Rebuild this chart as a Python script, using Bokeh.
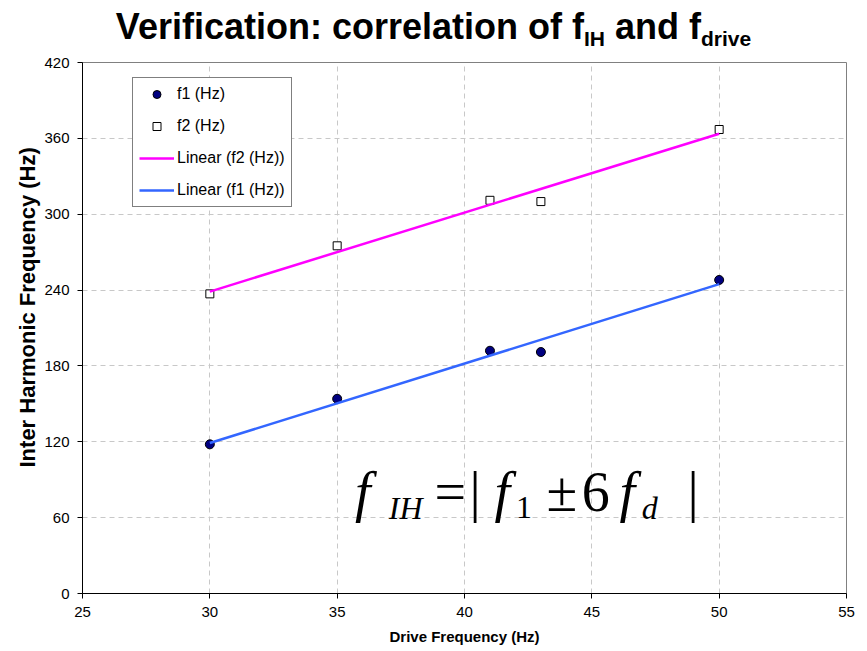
from bokeh.plotting import figure
from bokeh.models import Range1d, FixedTicker, Legend, LegendItem, Label, Div, Title
from bokeh.layouts import column
from bokeh.embed import file_html
from bokeh.resources import INLINE
import numpy as np

# ---- data ----
drive_hz = [30, 35, 41, 43, 50]
f1_hz = [118, 154, 192, 191, 248]
f2_hz = [237, 275, 311, 310, 367]
x_ticks = [25, 30, 35, 40, 45, 50, 55]
y_ticks = [0, 60, 120, 180, 240, 300, 360, 420]

SANS = "Liberation Sans"
SERIF = "Liberation Serif"

W, H = 867, 651
TITLE_H = 52

title = Div(
    text=(
        '<div style="font-family:\'Liberation Sans\',Arial,sans-serif;font-weight:bold;'
        'font-size:36px;line-height:37px;padding-top:8px;text-align:center;width:867px;color:#000;">'
        'Verification: correlation of f<span style="font-size:21px;position:relative;top:7px">IH</span>'
        ' and f<span style="font-size:21px;position:relative;top:7px">drive</span></div>'
    ),
    width=W, height=TITLE_H, margin=(0, 0, 0, 0),
)

p = figure(
    width=W, height=H - TITLE_H,
    x_range=Range1d(25, 55), y_range=Range1d(0, 420),
    output_backend="svg", toolbar_location=None,
    min_border_left=82, min_border_right=21, min_border_top=10, min_border_bottom=58,
)
p.outline_line_color = "#808080"
p.background_fill_color = "white"
p.border_fill_color = "white"

# grids
for g in (p.xgrid, p.ygrid):
    g.grid_line_color = "#c8c8c8"
    g.grid_line_dash = "5 4"
    g.grid_line_width = 1
p.xaxis.ticker = FixedTicker(ticks=x_ticks)
p.yaxis.ticker = FixedTicker(ticks=y_ticks)

for ax in (p.xaxis, p.yaxis):
    ax.axis_line_color = "black"
    ax.major_tick_line_color = "black"
    ax.minor_tick_line_color = None
    ax.major_tick_in = 0
    ax.major_tick_out = 5
    ax.major_label_text_font = SANS
    ax.major_label_text_font_size = "15px"
    ax.major_label_text_color = "black"
    ax.axis_label_text_font = SANS
    ax.axis_label_text_font_style = "bold"
    ax.axis_label_text_color = "black"

p.xaxis.axis_label = "Drive Frequency (Hz)"
p.xaxis.axis_label_text_font_size = "15px"
p.xaxis.major_label_standoff = 8
p.xaxis.axis_label_standoff = 8

p.yaxis.major_label_standoff = 8

# y-axis title, placed a little above the frame centre as in the reference
p.add_layout(Title(text="Inter Harmonic Frequency (Hz)", align="left", offset=126,
                   text_font=SANS, text_font_size="22px", text_font_style="bold",
                   text_color="black", standoff=4), "left")

# points
r1 = p.scatter(drive_hz, f1_hz, marker="circle", size=9, fill_color="#000080", line_color="black", line_width=1)
r2 = p.scatter(drive_hz, f2_hz, marker="square", size=8, fill_color="white", line_color="black", line_width=1)

# linear trend lines (least squares on the data)
xs = [min(drive_hz), max(drive_hz)]
c2 = np.polyfit(drive_hz, f2_hz, 1)
c1 = np.polyfit(drive_hz, f1_hz, 1)
l2 = p.line(xs, list(np.polyval(c2, xs)), line_color="#FF00FF", line_width=2.5)
l1 = p.line(xs, list(np.polyval(c1, xs)), line_color="#3366FF", line_width=2.5)

legend = Legend(
    items=[
        LegendItem(label="f1 (Hz)", renderers=[r1]),
        LegendItem(label="f2 (Hz)", renderers=[r2]),
        LegendItem(label="Linear (f2 (Hz))", renderers=[l2]),
        LegendItem(label="Linear (f1 (Hz))", renderers=[l1]),
    ],
    location=(50, 386),
    border_line_color="black", border_line_width=1,
    background_fill_color="white", background_fill_alpha=1,
    label_text_font=SANS, label_text_font_size="16px", label_text_color="black",
    glyph_width=35, glyph_height=20, label_height=20, spacing=12,
    padding=6, margin=0, label_standoff=3,
)
p.add_layout(legend)

# formula  f_IH = | f_1 ± 6 f_d |
main_y = 80.0
sub_y = 68.0
pieces = [
    ("f", 35.70, main_y, 56, "italic"),
    ("IH", 37.03, sub_y, 32, "italic"),
    ("=", 38.82, main_y, 56, "normal"),
    ("|", 40.20, main_y, 56, "normal"),
    ("f", 41.18, main_y, 56, "italic"),
    ("1", 42.02, sub_y, 32, "normal"),
    ("\u00b1", 43.22, main_y, 56, "normal"),
    ("6", 44.60, main_y, 56, "normal"),
    ("f", 46.09, main_y, 56, "italic"),
    ("d", 46.96, sub_y, 32, "italic"),
    ("|", 48.76, main_y, 56, "normal"),
]
for txt, x, y, sz, st in pieces:
    p.add_layout(Label(x=x, y=y, text=txt, text_font=SERIF, text_font_size=f"{sz}px",
                       text_font_style=st, text_color="black",
                       text_align="left", text_baseline="alphabetic"))

layout = column(title, p, spacing=0)
open("out.html", "w").write(file_html(layout, INLINE))
